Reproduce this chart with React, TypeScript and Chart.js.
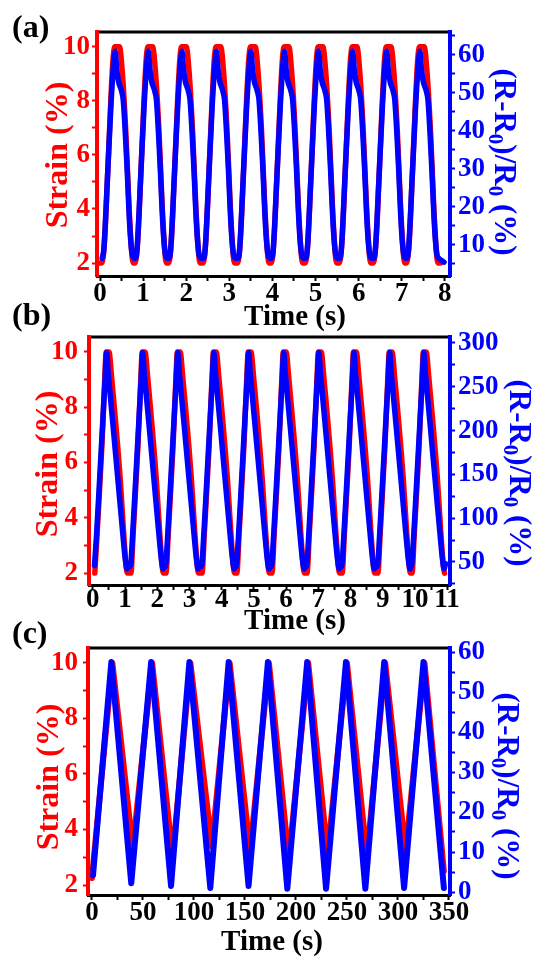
import React, { useEffect, useRef } from 'react';
import { Chart, registerables } from 'chart.js';

Chart.register(...registerables);

const FONT = '"Liberation Serif", "Times New Roman", Times, serif';
const RED = '#ff0000';
const BLUE = '#0000ff';
const W = 534;

// ---------------- Panel (a) ----------------
const aStrainTime = [
  0.00,
  0.04, 0.10, 0.18, 0.25, 0.30, 0.34, 0.45, 0.52, 0.60, 0.67, 0.73, 0.77,
  0.81, 0.87, 0.95, 1.02, 1.07, 1.11, 1.22, 1.29, 1.37, 1.44, 1.50, 1.54,
  1.59, 1.65, 1.73, 1.80, 1.85, 1.89, 2.00, 2.07, 2.15, 2.22, 2.28, 2.32,
  2.39, 2.45, 2.53, 2.60, 2.65, 2.69, 2.80, 2.87, 2.95, 3.02, 3.08, 3.12,
  3.19, 3.25, 3.33, 3.40, 3.45, 3.49, 3.60, 3.67, 3.75, 3.82, 3.88, 3.92,
  3.97, 4.03, 4.11, 4.18, 4.23, 4.27, 4.38, 4.45, 4.53, 4.60, 4.66, 4.70,
  4.76, 4.82, 4.90, 4.97, 5.02, 5.06, 5.17, 5.24, 5.32, 5.39, 5.45, 5.49,
  5.55, 5.61, 5.69, 5.76, 5.81, 5.85, 5.96, 6.03, 6.11, 6.18, 6.24, 6.28,
  6.34, 6.40, 6.48, 6.55, 6.60, 6.64, 6.75, 6.82, 6.90, 6.97, 7.03, 7.07,
  7.11, 7.17, 7.25, 7.32, 7.37, 7.41, 7.52, 7.59, 7.67, 7.74, 7.80, 7.84,
  7.90,
];
const aStrain = [
  2.0,
  2.0, 2.7, 5.4, 8.0, 9.5, 10.0, 10.0, 9.0, 6.8, 4.2, 2.5, 2.0,
  2.0, 2.7, 5.4, 8.0, 9.5, 10.0, 10.0, 9.0, 6.8, 4.2, 2.5, 2.0,
  2.0, 2.7, 5.4, 8.0, 9.5, 10.0, 10.0, 9.0, 6.8, 4.2, 2.5, 2.0,
  2.0, 2.7, 5.4, 8.0, 9.5, 10.0, 10.0, 9.0, 6.8, 4.2, 2.5, 2.0,
  2.0, 2.7, 5.4, 8.0, 9.5, 10.0, 10.0, 9.0, 6.8, 4.2, 2.5, 2.0,
  2.0, 2.7, 5.4, 8.0, 9.5, 10.0, 10.0, 9.0, 6.8, 4.2, 2.5, 2.0,
  2.0, 2.7, 5.4, 8.0, 9.5, 10.0, 10.0, 9.0, 6.8, 4.2, 2.5, 2.0,
  2.0, 2.7, 5.4, 8.0, 9.5, 10.0, 10.0, 9.0, 6.8, 4.2, 2.5, 2.0,
  2.0, 2.7, 5.4, 8.0, 9.5, 10.0, 10.0, 9.0, 6.8, 4.2, 2.5, 2.0,
  2.0, 2.7, 5.4, 8.0, 9.5, 10.0, 10.0, 9.0, 6.8, 4.2, 2.5, 2.0,
  2.0,
];
const aResTime = [
  0.05, 0.09, 0.17, 0.25, 0.31, 0.35, 0.39, 0.43, 0.50, 0.54, 0.62, 0.69, 0.74, 0.79,
  0.82, 0.86, 0.94, 1.02, 1.08, 1.12, 1.16, 1.20, 1.27, 1.31, 1.39, 1.46, 1.51, 1.56,
  1.60, 1.64, 1.72, 1.80, 1.86, 1.90, 1.94, 1.98, 2.05, 2.09, 2.17, 2.24, 2.29, 2.34,
  2.40, 2.44, 2.52, 2.60, 2.66, 2.70, 2.74, 2.78, 2.85, 2.89, 2.97, 3.04, 3.09, 3.14,
  3.20, 3.24, 3.32, 3.40, 3.46, 3.50, 3.54, 3.58, 3.65, 3.69, 3.77, 3.84, 3.89, 3.94,
  3.98, 4.02, 4.10, 4.18, 4.24, 4.28, 4.32, 4.36, 4.43, 4.47, 4.55, 4.62, 4.67, 4.72,
  4.77, 4.81, 4.89, 4.97, 5.03, 5.07, 5.11, 5.15, 5.22, 5.26, 5.34, 5.41, 5.46, 5.51,
  5.56, 5.60, 5.68, 5.76, 5.82, 5.86, 5.90, 5.94, 6.01, 6.05, 6.13, 6.20, 6.25, 6.30,
  6.35, 6.39, 6.47, 6.55, 6.61, 6.65, 6.69, 6.73, 6.80, 6.84, 6.92, 6.99, 7.04, 7.09,
  7.12, 7.16, 7.24, 7.32, 7.38, 7.42, 7.46, 7.50, 7.57, 7.61, 7.69, 7.76, 7.81, 7.86,
  7.92, 7.98,
];
const aRes = [
  6.5, 9, 27, 46, 57, 61, 56, 53, 50.5, 48, 32, 15, 8, 6.5,
  6.5, 9, 27, 46, 57, 61, 56, 53, 50.5, 48, 32, 15, 8, 6.5,
  6.5, 9, 27, 46, 57, 61, 56, 53, 50.5, 48, 32, 15, 8, 6.5,
  6.5, 9, 27, 46, 57, 61, 56, 53, 50.5, 48, 32, 15, 8, 6.5,
  6.5, 9, 27, 46, 57, 61, 56, 53, 50.5, 48, 32, 15, 8, 6.5,
  6.5, 9, 27, 46, 57, 61, 56, 53, 50.5, 48, 32, 15, 8, 6.5,
  6.5, 9, 27, 46, 57, 61, 56, 53, 50.5, 48, 32, 15, 8, 6.5,
  6.5, 9, 27, 46, 57, 61, 56, 53, 50.5, 48, 32, 15, 8, 6.5,
  6.5, 9, 27, 46, 57, 61, 56, 53, 50.5, 48, 32, 15, 8, 6.5,
  6.5, 9, 27, 46, 57, 61, 56, 53, 50.5, 48, 32, 15, 8, 6.5,
  6.0, 5.5,
];

// ---------------- Panel (b) ----------------
const bStrainTime = [
  0.06, 0.13, 0.28, 0.39, 0.41, 0.50, 0.58, 0.83, 1.03, 1.07,
  1.18, 1.25, 1.40, 1.51, 1.53, 1.62, 1.70, 1.95, 2.15, 2.19,
  2.27, 2.34, 2.49, 2.60, 2.62, 2.71, 2.79, 3.04, 3.24, 3.28,
  3.39, 3.46, 3.61, 3.72, 3.74, 3.83, 3.91, 4.16, 4.36, 4.40,
  4.47, 4.54, 4.69, 4.80, 4.82, 4.91, 4.99, 5.24, 5.44, 5.48,
  5.56, 5.63, 5.78, 5.89, 5.91, 6.00, 6.08, 6.33, 6.53, 6.57,
  6.65, 6.72, 6.87, 6.98, 7.00, 7.09, 7.17, 7.42, 7.62, 7.66,
  7.74, 7.81, 7.96, 8.07, 8.09, 8.18, 8.26, 8.51, 8.71, 8.75,
  8.85, 8.92, 9.07, 9.18, 9.20, 9.29, 9.37, 9.62, 9.82, 9.86,
  9.91, 9.98, 10.13, 10.24, 10.26, 10.35, 10.43, 10.68, 10.88, 10.92,
];
const bStrain = [
  2.0, 3.4, 6.6, 9.6, 10, 10, 9.1, 5.7, 2.3, 2.0,
  2.0, 3.4, 6.6, 9.6, 10, 10, 9.1, 5.7, 2.3, 2.0,
  2.0, 3.4, 6.6, 9.6, 10, 10, 9.1, 5.7, 2.3, 2.0,
  2.0, 3.4, 6.6, 9.6, 10, 10, 9.1, 5.7, 2.3, 2.0,
  2.0, 3.4, 6.6, 9.6, 10, 10, 9.1, 5.7, 2.3, 2.0,
  2.0, 3.4, 6.6, 9.6, 10, 10, 9.1, 5.7, 2.3, 2.0,
  2.0, 3.4, 6.6, 9.6, 10, 10, 9.1, 5.7, 2.3, 2.0,
  2.0, 3.4, 6.6, 9.6, 10, 10, 9.1, 5.7, 2.3, 2.0,
  2.0, 3.4, 6.6, 9.6, 10, 10, 9.1, 5.7, 2.3, 2.0,
  2.0, 3.4, 6.6, 9.6, 10, 10, 9.1, 5.7, 2.3, 2.0,
];
const bResTime = [
  0.05, 0.11, 0.23, 0.37, 0.43, 0.47, 0.52, 0.63, 0.78, 0.93, 1.01, 1.06, 1.10,
  1.17, 1.23, 1.35, 1.49, 1.55, 1.59, 1.64, 1.75, 1.90, 2.05, 2.13, 2.18, 2.22,
  2.26, 2.32, 2.44, 2.58, 2.64, 2.68, 2.73, 2.84, 2.99, 3.14, 3.22, 3.27, 3.31,
  3.38, 3.44, 3.56, 3.70, 3.76, 3.80, 3.85, 3.96, 4.11, 4.26, 4.34, 4.39, 4.43,
  4.46, 4.52, 4.64, 4.78, 4.84, 4.88, 4.93, 5.04, 5.19, 5.34, 5.42, 5.47, 5.51,
  5.55, 5.61, 5.73, 5.87, 5.93, 5.97, 6.02, 6.13, 6.28, 6.43, 6.51, 6.56, 6.60,
  6.64, 6.70, 6.82, 6.96, 7.02, 7.06, 7.11, 7.22, 7.37, 7.52, 7.60, 7.65, 7.69,
  7.73, 7.79, 7.91, 8.05, 8.11, 8.15, 8.20, 8.31, 8.46, 8.61, 8.69, 8.74, 8.78,
  8.84, 8.90, 9.02, 9.16, 9.22, 9.26, 9.31, 9.42, 9.57, 9.72, 9.80, 9.85, 9.88,
  9.90, 9.96, 10.08, 10.22, 10.28, 10.32, 10.37, 10.48, 10.63, 10.78, 10.86, 10.91, 10.95,
];
const bRes = [
  46, 78, 158, 252, 289, 268, 248, 204, 143, 82, 52, 42, 44,
  46, 78, 158, 252, 289, 268, 248, 204, 143, 82, 52, 42, 44,
  46, 78, 158, 252, 289, 268, 248, 204, 143, 82, 52, 42, 44,
  46, 78, 158, 252, 289, 268, 248, 204, 143, 82, 52, 42, 44,
  46, 78, 158, 252, 289, 268, 248, 204, 143, 82, 52, 42, 44,
  46, 78, 158, 252, 289, 268, 248, 204, 143, 82, 52, 42, 44,
  46, 78, 158, 252, 289, 268, 248, 204, 143, 82, 52, 42, 44,
  46, 78, 158, 252, 289, 268, 248, 204, 143, 82, 52, 42, 44,
  46, 78, 158, 252, 289, 268, 248, 204, 143, 82, 52, 42, 44,
  46, 78, 158, 252, 289, 268, 248, 204, 143, 82, 52, 42, 48,
];

// ---------------- Panel (c) ----------------
const cStrainTime = [0, 20, 40, 59, 79, 96.5, 117.5, 135, 155, 173.5, 193, 212, 231, 250, 269.5, 287.5, 307.5, 326, 345];
const cStrain = [2.25, 10, 3.3, 10, 3.0, 10, 3.4, 10, 3.2, 10, 2.9, 10, 3.1, 10, 3.0, 10, 3.2, 10, 2.5];
const cResTime = [1, 19, 38.5, 58, 77.5, 95.5, 116, 134, 153.5, 172.5, 191.5, 211, 229.5, 249, 268, 286.5, 306, 325, 345];
const cRes = [4.2, 57.5, 2.2, 57.5, 1.5, 57.5, 1.0, 57.5, 1.5, 57.5, 0.8, 57.5, 0.8, 57.5, 0.8, 57.5, 1.0, 57.5, 1.0];

// ---------------- Texts ----------------
const panelLabels = ['(a)', '(b)', '(c)'];
const xTitle = 'Time (s)';
const leftTitle = 'Strain (%)';

const pts = (t: number[], v: number[]) => t.map((x, i) => ({ x, y: v[i] }));
const every = (n: number) => (v: any) => {
  const r = Math.round(v / n) * n;
  return Math.abs(v - r) < 1e-6 ? String(Math.round(r * 100) / 100) : '';
};

type Cfg = {
  label: string;
  canvasTop: number;
  canvasHeight: number;
  area: { left: number; right: number; top: number; bottom: number };
  x: [number, number, number, number];
  yL: [number, number];
  yR: [number, number, number, number];
  strainT: number[];
  strainV: number[];
  resT: number[];
  resV: number[];
  smooth: boolean;
  lw: number;
  xPad: number;
  lPad: number;
  xT: [number, number];
  lT: [number, number];
  rT: [number, number];
  labelTop: number;
};

const panels: Cfg[] = [
  {
    label: panelLabels[0], canvasTop: 0, canvasHeight: 340,
    area: { left: 97, right: 450, top: 32, bottom: 276 },
    x: [-0.07, 8.12, 0.5, 1], yL: [1.52, 10.55], yR: [1.84, 66.05, 5, 10],
    strainT: aStrainTime, strainV: aStrain, resT: aResTime, resV: aRes,
    smooth: true, lw: 5.5, xPad: 0, lPad: 2,
    xT: [295, 318], lT: [59, 155], rT: [503, 162], labelTop: 10,
  },
  {
    label: panelLabels[1], canvasTop: 300, canvasHeight: 345,
    area: { left: 89, right: 450, top: 337, bottom: 585 },
    x: [-0.12, 11.09, 0.5, 1], yL: [1.57, 10.54], yR: [23.7, 306.8, 25, 50],
    strainT: bStrainTime, strainV: bStrain, resT: bResTime, resV: bRes,
    smooth: true, lw: 5.5, xPad: -3, lPad: 6,
    xT: [295, 622], lT: [49, 464], rT: [518, 473], labelTop: 298,
  },
  {
    label: panelLabels[2], canvasTop: 610, canvasHeight: 348,
    area: { left: 88, right: 450, top: 648, bottom: 895 },
    x: [-3.9, 351, 25, 50], yL: [1.64, 10.54], yR: [-0.75, 61, 5, 10],
    strainT: cStrainTime, strainV: cStrain, resT: cResTime, resV: cRes,
    smooth: false, lw: 6, xPad: 0, lPad: 5,
    xT: [272, 943], lT: [50, 777], rT: [506, 786], labelTop: 616,
  },
];

const decorPlugin = {
  id: 'decor',
  beforeDraw(chart: any) {
    const { ctx, chartArea } = chart;
    ctx.save();
    ctx.strokeStyle = '#000';
    ctx.lineWidth = 3;
    ctx.beginPath();
    ctx.moveTo(chartArea.left, chartArea.top);
    ctx.lineTo(chartArea.right, chartArea.top);
    ctx.stroke();
    ctx.restore();
  },
  afterDraw(chart: any, _a: any, opts: any) {
    const ctx = chart.ctx;
    const xFont = `bold 29px ${FONT}`;
    const vFont = `bold 32px ${FONT}`;
    const rFont = `bold 31px ${FONT}`;
    const subFont = `bold 21px ${FONT}`;
    ctx.save();
    ctx.textAlign = 'center';
    ctx.textBaseline = 'middle';
    ctx.font = xFont;
    ctx.fillStyle = '#000';
    ctx.fillText(xTitle, opts.xT[0], opts.xT[1]);

    ctx.save();
    ctx.translate(opts.lT[0], opts.lT[1]);
    ctx.rotate(-Math.PI / 2);
    ctx.font = vFont;
    ctx.fillStyle = RED;
    ctx.fillText(leftTitle, 0, 0);
    ctx.restore();

    ctx.save();
    ctx.translate(opts.rT[0], opts.rT[1]);
    ctx.rotate(Math.PI / 2);
    ctx.fillStyle = BLUE;
    ctx.textAlign = 'left';
    const segs: [string, boolean][] = [['(R-R', false], ['0', true], [')/R', false], ['0', true], [' (%)', false]];
    let total = 0;
    const widths = segs.map(([t, s]) => {
      ctx.font = s ? subFont : rFont;
      const w = ctx.measureText(t).width;
      total += w;
      return w;
    });
    let x = -total / 2;
    segs.forEach(([t, s], i) => {
      ctx.font = s ? subFont : rFont;
      ctx.fillText(t, x, s ? 9 : 0);
      x += widths[i];
    });
    ctx.restore();
    ctx.restore();
  },
};

function Panel({ cfg }: { cfg: Cfg }) {
  const ref = useRef<HTMLCanvasElement | null>(null);
  useEffect(() => {
    const tickFont = { family: FONT, size: 27, weight: 'bold' as const, lineHeight: 1 };
    const xAxisH = cfg.canvasTop + cfg.canvasHeight - cfg.area.bottom;
    const gridBase = { display: true, drawOnChartArea: false, drawTicks: true, tickLength: 5, tickWidth: 2 };
    const lineStyle = {
      borderWidth: cfg.lw,
      pointRadius: 0,
      cubicInterpolationMode: cfg.smooth ? 'monotone' : 'default',
      tension: 0,
      borderJoinStyle: 'round',
      borderCapStyle: 'round',
    };
    const chart = new Chart(ref.current as HTMLCanvasElement, {
      type: 'line',
      data: {
        datasets: [
          {
            label: '(R-R0)/R0 (%)',
            data: pts(cfg.resT, cfg.resV),
            yAxisID: 'yR',
            borderColor: BLUE,
            backgroundColor: BLUE,
            ...lineStyle,
          },
          {
            label: 'Strain (%)',
            data: pts(cfg.strainT, cfg.strainV),
            yAxisID: 'yL',
            borderColor: RED,
            backgroundColor: RED,
            ...lineStyle,
          },
        ],
      },
      options: {
        responsive: false,
        animation: false,
        events: [],
        layout: { padding: { top: cfg.area.top - cfg.canvasTop, left: 0, right: 0, bottom: 0 } },
        plugins: {
          legend: { display: false },
          tooltip: { enabled: false },
          decor: { xT: [cfg.xT[0], cfg.xT[1] - cfg.canvasTop], lT: [cfg.lT[0], cfg.lT[1] - cfg.canvasTop], rT: [cfg.rT[0], cfg.rT[1] - cfg.canvasTop] },
        },
        scales: {
          x: {
            type: 'linear',
            min: cfg.x[0],
            max: cfg.x[1],
            afterFit: (s: any) => { s.height = xAxisH; },
            border: { display: true, color: '#000', width: 3 },
            grid: { ...gridBase, tickColor: '#000' },
            ticks: {
              stepSize: cfg.x[2],
              autoSkip: false,
              maxRotation: 0,
              minRotation: 0,
              includeBounds: false,
              color: '#000',
              font: tickFont,
              padding: cfg.xPad,
              callback: every(cfg.x[3]),
            },
          },
          yL: {
            type: 'linear',
            position: 'left',
            min: cfg.yL[0],
            max: cfg.yL[1],
            afterFit: (s: any) => { s.width = cfg.area.left; },
            border: { display: true, color: RED, width: 4 },
            grid: { ...gridBase, tickColor: RED },
            ticks: {
              stepSize: 1,
              autoSkip: false,
              includeBounds: false,
              color: RED,
              font: tickFont,
              padding: cfg.lPad,
              callback: every(2),
            },
          },
          yR: {
            type: 'linear',
            position: 'right',
            min: cfg.yR[0],
            max: cfg.yR[1],
            afterFit: (s: any) => { s.width = W - cfg.area.right; },
            border: { display: true, color: BLUE, width: 4 },
            grid: { ...gridBase, tickColor: BLUE },
            ticks: {
              stepSize: cfg.yR[2],
              autoSkip: false,
              includeBounds: false,
              color: BLUE,
              font: tickFont,
              padding: 3,
              callback: every(cfg.yR[3]),
            },
          },
        },
      } as any,
      plugins: [decorPlugin as any],
    } as any);
    return () => chart.destroy();
  }, [cfg]);
  return (
    <canvas
      ref={ref}
      width={W}
      height={cfg.canvasHeight}
      style={{ position: 'absolute', left: 0, top: cfg.canvasTop, width: W, height: cfg.canvasHeight }}
    />
  );
}

export default function App() {
  return (
    <div style={{ position: 'absolute', left: 0, top: 0, width: W, height: 958, background: '#fff', overflow: 'hidden' }}>
      {panels.map((p) => (
        <Panel key={p.label} cfg={p} />
      ))}
      {panels.map((p) => (
        <div
          key={'lbl' + p.label}
          style={{
            position: 'absolute',
            left: 12,
            top: p.labelTop,
            fontFamily: FONT,
            fontWeight: 'bold',
            fontSize: 32,
            lineHeight: '32px',
            color: '#000',
            zIndex: 5,
          }}
        >
          {p.label}
        </div>
      ))}
    </div>
  );
}
